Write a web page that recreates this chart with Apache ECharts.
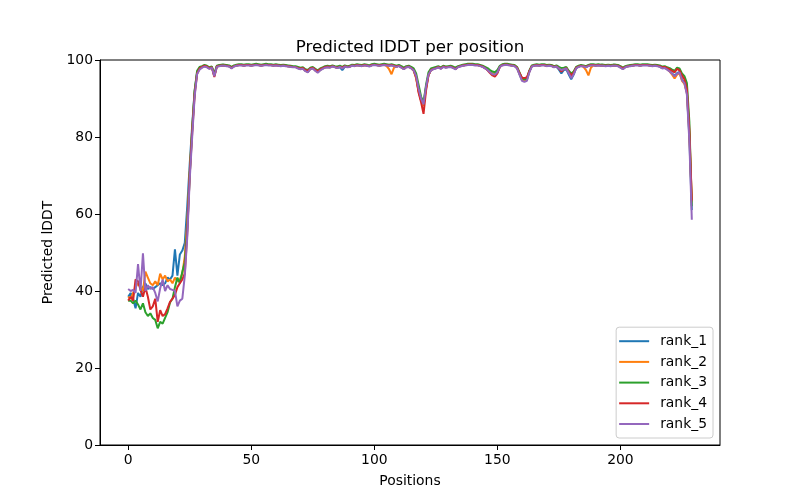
<!DOCTYPE html>
<html>
<head>
<meta charset="utf-8">
<script src="https://cdn.jsdelivr.net/npm/echarts@6/dist/echarts.min.js"></script>
<style>html,body{margin:0;padding:0;background:#fff;}#c{width:800px;height:500px;}</style>
</head>
<body>
<div id="c"></div>
<script>
var seriesNames = ["rank_1", "rank_2", "rank_3", "rank_4", "rank_5"];
var xTicks = [0, 50, 100, 150, 200];
var yTicks = [0, 20, 40, 60, 80, 100];

var rank_1 = [
38.5, 39.5, 38.0, 35.5, 39.5, 38.5, 41.0, 42.0, 40.5, 41.0,
40.5, 41.0, 41.5, 42.0, 41.5, 42.0, 43.5, 43.0, 44.0, 50.8,
44.0, 49.5, 50.5, 52.5, 62.0, 73.0, 83.0, 92.0, 96.8, 97.8,
98.1, 98.4, 98.2, 97.8, 98.1, 95.9, 98.3, 98.5, 98.6, 98.6,
98.5, 98.4, 97.9, 98.4, 98.6, 98.7, 98.7, 98.6, 98.7, 98.7,
98.6, 98.7, 98.8, 98.7, 98.6, 98.7, 98.8, 98.7, 98.7, 98.6,
98.7, 98.6, 98.5, 98.6, 98.5, 98.4, 98.3, 98.2, 98.2, 97.9,
97.7, 97.8, 97.2, 96.9, 97.7, 97.9, 97.3, 96.8, 97.4, 97.8,
98.1, 98.2, 98.1, 98.4, 98.2, 98.0, 98.1, 97.4, 98.2, 98.2,
98.3, 98.6, 98.5, 98.7, 98.6, 98.5, 98.7, 98.6, 98.4, 98.7,
98.8, 98.7, 98.6, 98.7, 98.8, 98.7, 98.6, 98.7, 98.5, 98.3,
98.5, 98.1, 97.7, 98.2, 98.3, 97.9, 97.3, 95.6, 92.0, 89.5,
88.5, 92.8, 96.1, 97.4, 97.7, 97.9, 98.2, 97.8, 98.3, 98.1,
98.2, 98.3, 98.0, 97.7, 98.2, 98.4, 98.6, 98.7, 98.8, 98.8,
98.8, 98.7, 98.7, 98.5, 98.3, 97.9, 97.5, 96.9, 96.4, 96.3,
96.8, 98.3, 98.7, 98.8, 98.8, 98.7, 98.6, 98.5, 97.9, 96.3,
94.8, 94.6, 94.9, 97.0, 98.4, 98.6, 98.7, 98.6, 98.7, 98.7,
98.5, 98.6, 98.5, 98.2, 98.2, 97.5, 96.5, 97.4, 97.6, 96.2,
95.0, 96.2, 97.9, 98.3, 98.5, 98.4, 98.2, 98.5, 98.7, 98.7,
98.6, 98.7, 98.6, 98.6, 98.5, 98.6, 98.5, 98.6, 98.6, 98.5,
98.1, 97.7, 98.2, 98.4, 98.5, 98.6, 98.7, 98.7, 98.6, 98.7,
98.7, 98.7, 98.6, 98.5, 98.6, 98.5, 98.3, 97.9, 98.0, 97.6,
97.1, 96.5, 95.9, 96.6, 96.9, 95.0, 94.2, 91.5, 80.0, 61.0
];
var rank_2 = [
38.5, 38.0, 39.5, 41.0, 42.0, 41.0, 40.0, 45.0, 43.5, 42.0,
41.5, 42.5, 41.5, 44.5, 43.0, 44.0, 42.5, 43.0, 42.0, 43.5,
42.5, 43.0, 44.5, 49.0, 58.0, 71.0, 82.0, 91.5, 96.5, 97.8,
98.1, 98.4, 98.2, 97.8, 98.1, 95.9, 98.3, 98.5, 98.6, 98.6,
98.5, 98.4, 97.9, 98.4, 98.6, 98.7, 98.7, 98.6, 98.7, 98.7,
98.6, 98.7, 98.8, 98.7, 98.6, 98.7, 98.8, 98.7, 98.7, 98.6,
98.7, 98.6, 98.5, 98.6, 98.5, 98.4, 98.3, 98.2, 98.2, 97.9,
97.7, 97.8, 97.2, 96.9, 97.7, 97.9, 97.3, 96.8, 97.4, 97.8,
98.1, 98.2, 98.1, 98.4, 98.2, 98.0, 98.3, 97.9, 98.4, 98.2,
98.3, 98.6, 98.5, 98.7, 98.6, 98.5, 98.7, 98.6, 98.4, 98.7,
98.8, 98.7, 98.6, 98.7, 98.8, 98.4, 97.6, 96.3, 98.0, 98.3,
98.5, 98.1, 97.7, 98.2, 98.3, 97.9, 97.2, 95.2, 91.8, 89.5,
88.0, 92.5, 96.0, 97.4, 97.7, 97.9, 98.2, 97.8, 98.3, 98.1,
98.2, 98.3, 98.0, 97.7, 98.2, 98.4, 98.6, 98.7, 98.8, 98.8,
98.8, 98.7, 98.7, 98.5, 98.3, 97.9, 97.5, 96.9, 96.4, 96.3,
96.8, 98.3, 98.7, 98.8, 98.8, 98.7, 98.6, 98.5, 97.9, 96.4,
95.0, 94.8, 95.0, 97.0, 98.4, 98.6, 98.7, 98.6, 98.7, 98.7,
98.5, 98.6, 98.5, 98.2, 98.4, 97.9, 97.5, 97.7, 97.9, 96.8,
96.2, 96.8, 98.0, 98.3, 98.5, 98.2, 97.4, 96.0, 98.0, 98.6,
98.6, 98.7, 98.6, 98.6, 98.5, 98.6, 98.5, 98.6, 98.6, 98.5,
98.1, 97.7, 98.2, 98.4, 98.5, 98.6, 98.7, 98.7, 98.6, 98.7,
98.7, 98.7, 98.6, 98.5, 98.6, 98.5, 98.3, 97.9, 98.0, 97.6,
97.0, 96.2, 95.2, 96.2, 96.6, 94.6, 93.8, 91.5, 81.0, 63.0
];
var rank_3 = [
37.5, 37.5, 36.8, 37.5, 36.5, 35.2, 36.8, 34.5, 33.5, 34.2,
33.0, 32.5, 30.3, 32.0, 31.5, 33.0, 34.5, 37.0, 38.0, 41.0,
43.5, 42.0, 45.0, 47.5, 56.0, 70.0, 82.0, 92.0, 97.2, 98.2,
98.4, 98.7, 98.5, 98.1, 98.3, 96.5, 98.5, 98.7, 98.8, 98.8,
98.7, 98.6, 98.2, 98.6, 98.8, 98.9, 98.9, 98.8, 98.9, 98.9,
98.8, 98.9, 99.0, 98.9, 98.8, 98.9, 99.0, 98.9, 98.9, 98.8,
98.9, 98.8, 98.7, 98.8, 98.7, 98.6, 98.5, 98.4, 98.4, 98.2,
98.0, 98.1, 97.6, 97.4, 98.0, 98.2, 97.7, 97.3, 97.8, 98.1,
98.4, 98.5, 98.4, 98.6, 98.4, 98.3, 98.5, 98.2, 98.6, 98.4,
98.5, 98.8, 98.7, 98.9, 98.8, 98.7, 98.9, 98.8, 98.6, 98.9,
99.0, 98.9, 98.8, 98.9, 99.0, 98.9, 98.8, 98.9, 98.7, 98.5,
98.7, 98.4, 98.0, 98.4, 98.5, 98.2, 97.8, 96.5, 93.5, 90.5,
89.0, 93.5, 96.8, 97.8, 98.0, 98.2, 98.4, 98.1, 98.5, 98.3,
98.4, 98.5, 98.3, 98.0, 98.4, 98.6, 98.8, 98.9, 99.0, 99.0,
99.0, 98.9, 98.9, 98.7, 98.5, 98.2, 97.9, 97.4, 97.0, 96.8,
97.4, 98.5, 98.9, 99.0, 99.0, 98.9, 98.8, 98.7, 98.2, 96.8,
95.3, 95.0, 95.2, 97.3, 98.6, 98.8, 98.9, 98.8, 98.9, 98.9,
98.7, 98.8, 98.7, 98.4, 98.6, 98.2, 97.9, 98.0, 98.2, 97.2,
96.5, 97.0, 98.2, 98.5, 98.7, 98.6, 98.4, 98.7, 98.9, 98.9,
98.8, 98.9, 98.8, 98.8, 98.7, 98.8, 98.7, 98.8, 98.8, 98.7,
98.4, 98.0, 98.4, 98.6, 98.7, 98.8, 98.9, 98.9, 98.8, 98.9,
98.9, 98.9, 98.8, 98.7, 98.8, 98.7, 98.6, 98.3, 98.4, 98.1,
97.9, 97.5, 97.2, 98.0, 97.8, 96.5, 95.8, 94.0, 84.0, 62.0
];
var rank_4 = [
37.5, 38.5, 37.5, 43.0, 42.5, 40.3, 38.5, 41.0, 38.5, 35.2,
36.0, 38.0, 32.0, 35.0, 33.5, 34.0, 35.5, 37.2, 38.0, 39.0,
41.0, 42.0, 43.0, 44.5, 55.0, 70.0, 81.0, 91.0, 96.5, 97.8,
98.2, 98.5, 98.3, 97.9, 98.1, 95.6, 98.3, 98.5, 98.6, 98.6,
98.5, 98.4, 97.9, 98.4, 98.6, 98.7, 98.7, 98.6, 98.7, 98.7,
98.6, 98.7, 98.8, 98.7, 98.6, 98.7, 98.8, 98.7, 98.7, 98.6,
98.7, 98.6, 98.5, 98.6, 98.5, 98.4, 98.3, 98.2, 98.2, 97.9,
97.8, 97.9, 97.4, 97.2, 97.8, 98.0, 97.5, 97.1, 97.6, 97.9,
98.2, 98.3, 98.2, 98.4, 98.2, 98.0, 98.3, 98.0, 98.4, 98.2,
98.3, 98.6, 98.5, 98.7, 98.6, 98.5, 98.7, 98.6, 98.4, 98.7,
98.8, 98.7, 98.6, 98.7, 98.8, 98.7, 98.6, 98.7, 98.5, 98.3,
98.5, 98.1, 97.7, 98.2, 98.3, 97.9, 97.3, 95.5, 91.5, 89.0,
86.0, 92.0, 96.0, 97.4, 97.7, 97.9, 98.2, 97.8, 98.3, 98.1,
98.2, 98.3, 98.0, 97.7, 98.2, 98.4, 98.6, 98.7, 98.8, 98.8,
98.8, 98.7, 98.7, 98.5, 98.3, 97.9, 97.3, 96.6, 96.0, 95.7,
96.5, 98.2, 98.7, 98.8, 98.8, 98.7, 98.6, 98.5, 98.0, 96.6,
95.4, 95.3, 95.5, 97.1, 98.4, 98.6, 98.7, 98.6, 98.7, 98.7,
98.5, 98.6, 98.5, 98.2, 98.4, 97.8, 97.0, 97.6, 97.9, 96.9,
96.0, 96.7, 98.0, 98.3, 98.5, 98.4, 98.2, 98.5, 98.7, 98.7,
98.6, 98.7, 98.6, 98.6, 98.5, 98.6, 98.5, 98.6, 98.6, 98.5,
98.2, 97.8, 98.2, 98.4, 98.5, 98.6, 98.7, 98.7, 98.6, 98.7,
98.7, 98.7, 98.6, 98.5, 98.6, 98.5, 98.4, 98.1, 98.2, 97.9,
97.6, 97.2, 96.8, 97.7, 97.3, 96.0, 95.0, 92.5, 82.0, 63.5
];
var rank_5 = [
40.5, 40.0, 40.3, 39.5, 47.0, 40.0, 49.8, 40.0, 41.5, 40.5,
41.0, 39.5, 37.3, 40.7, 43.0, 40.0, 41.5, 40.5, 40.3, 40.0,
36.0, 37.5, 38.0, 44.0, 54.0, 69.0, 80.0, 90.5, 96.3, 97.5,
98.0, 98.3, 98.1, 97.7, 98.0, 95.8, 98.2, 98.4, 98.5, 98.5,
98.4, 98.3, 97.8, 98.3, 98.5, 98.6, 98.6, 98.5, 98.6, 98.6,
98.5, 98.6, 98.7, 98.6, 98.5, 98.6, 98.7, 98.6, 98.6, 98.5,
98.6, 98.5, 98.4, 98.5, 98.4, 98.3, 98.2, 98.1, 98.1, 97.8,
97.6, 97.7, 97.1, 96.8, 97.6, 97.8, 97.2, 96.7, 97.3, 97.7,
98.0, 98.1, 98.0, 98.3, 98.1, 97.9, 98.2, 97.8, 98.3, 98.1,
98.2, 98.5, 98.4, 98.6, 98.5, 98.4, 98.6, 98.5, 98.3, 98.6,
98.7, 98.6, 98.5, 98.6, 98.7, 98.6, 98.5, 98.6, 98.4, 98.2,
98.4, 98.0, 97.6, 98.1, 98.2, 97.8, 97.3, 95.8, 92.5, 90.0,
88.5, 93.0, 96.2, 97.3, 97.6, 97.8, 98.1, 97.7, 98.2, 98.0,
98.1, 98.2, 97.9, 97.6, 98.1, 98.3, 98.5, 98.6, 98.7, 98.7,
98.7, 98.6, 98.6, 98.4, 98.2, 97.8, 97.4, 96.8, 96.3, 96.2,
96.8, 98.2, 98.6, 98.7, 98.7, 98.6, 98.5, 98.4, 97.8, 96.2,
94.6, 94.3, 94.6, 96.8, 98.3, 98.5, 98.6, 98.5, 98.6, 98.6,
98.4, 98.5, 98.4, 98.1, 98.3, 97.8, 97.4, 97.6, 97.8, 96.6,
95.3, 96.3, 97.8, 98.2, 98.4, 98.3, 98.1, 98.4, 98.6, 98.6,
98.5, 98.6, 98.5, 98.5, 98.4, 98.5, 98.4, 98.5, 98.5, 98.4,
98.0, 97.6, 98.1, 98.3, 98.4, 98.5, 98.6, 98.6, 98.5, 98.6,
98.6, 98.6, 98.5, 98.4, 98.5, 98.4, 98.2, 97.8, 97.9, 97.5,
97.0, 96.4, 95.8, 96.4, 96.8, 94.8, 94.0, 91.0, 79.0, 58.5
];

var allSeries = [rank_1, rank_2, rank_3, rank_4, rank_5];
var colors = ["#1f77b4", "#ff7f0e", "#2ca02c", "#d62728", "#9467bd"];
var FONT = "DejaVu Sans";

function toPairs(arr) {
  var out = [];
  for (var i = 0; i < arr.length; i++) out.push([i, arr[i]]);
  return out;
}

var chart = echarts.init(document.getElementById('c'), null, {renderer: 'canvas'});
var option = {
  animation: false,
  backgroundColor: '#ffffff',
  color: colors,
  textStyle: {fontFamily: FONT, color: '#000'},
  title: {
    text: 'Predicted lDDT per position',
    left: 405,
    textAlign: 'center',
    top: 34,
    textStyle: {fontFamily: FONT, fontSize: 16.7, fontWeight: 'normal', color: '#000'}
  },
  grid: {left: 100, right: 80, top: 60, bottom: 55, show: true, borderColor: '#000', borderWidth: 1, backgroundColor: 'transparent'},
  legend: {
    orient: 'vertical',
    right: 87,
    bottom: 62,
    data: seriesNames,
    icon: 'rect',
    itemWidth: 30,
    itemHeight: 2,
    itemGap: 6.7,
    padding: [7, 6, 7, 3],
    backgroundColor: 'rgba(255,255,255,0.8)',
    borderColor: '#cccccc',
    borderWidth: 1,
    borderRadius: 3,
    textStyle: {fontFamily: FONT, fontSize: 13.9, color: '#000', padding: [0, 0, 0, 6]}
  },
  xAxis: {
    type: 'value',
    min: -11.45,
    max: 240.45,
    name: 'Positions',
    nameLocation: 'middle',
    nameGap: 29,
    nameTextStyle: {fontFamily: FONT, fontSize: 13.9, color: '#000'},
    axisLine: {show: true, onZero: false, lineStyle: {color: '#000', width: 1}},
    axisTick: {show: true, length: 5, lineStyle: {color: '#000'}, customValues: xTicks},
    axisLabel: {fontFamily: FONT, fontSize: 13.9, color: '#000', margin: 8, customValues: xTicks},
    splitLine: {show: false}
  },
  yAxis: {
    type: 'value',
    min: 0,
    max: 100,
    interval: 20,
    name: 'Predicted lDDT',
    nameLocation: 'middle',
    nameGap: 40,
    nameTextStyle: {fontFamily: FONT, fontSize: 13.9, color: '#000'},
    axisLine: {show: true, onZero: false, lineStyle: {color: '#000', width: 1}},
    axisTick: {show: true, length: 5, lineStyle: {color: '#000'}, customValues: yTicks},
    axisLabel: {fontFamily: FONT, fontSize: 13.9, color: '#000', margin: 7, customValues: yTicks},
    splitLine: {show: false}
  },
  series: seriesNames.map(function (n, k) {
    return {
      name: n,
      type: 'line',
      data: toPairs(allSeries[k]),
      symbol: 'none',
      showSymbol: false,
      lineStyle: {width: 2, color: colors[k]},
      itemStyle: {color: colors[k]},
      emphasis: {disabled: true},
      z: 2 + k
    };
  })
};
chart.setOption(option);
</script>
</body>
</html>
